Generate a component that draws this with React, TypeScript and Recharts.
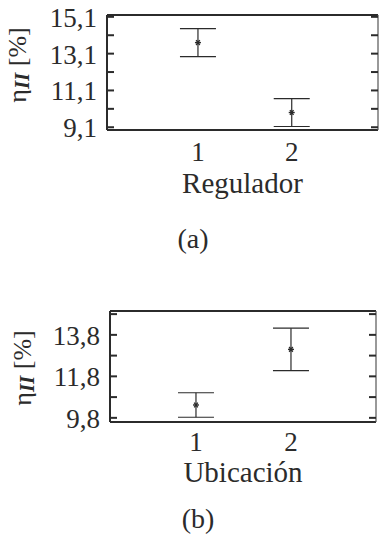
import { ScatterChart, Scatter, XAxis, YAxis, ErrorBar, Label } from 'recharts'

// (a) Regulador
const regX = [1, 2]
const regEta = [13.7, 9.9]
const regErr = [0.76, 0.76]
const regTicks = [9.1, 10.1, 11.1, 12.1, 13.1, 14.1, 15.1]
const regLabeled = [9.1, 11.1, 13.1, 15.1]

// (b) Ubicación
const ubiX = [1, 2]
const ubiEta = [10.42, 13.1]
const ubiErr = [0.59, 1.02]
const ubiTicks = [9.8, 10.8, 11.8, 12.8, 13.8, 14.8]
const ubiLabeled = [9.8, 11.8, 13.8]

const INK = '#2b2b2b'
const FONT = '"Liberation Serif", serif'

const fmt = (v: number) => v.toFixed(1).replace('.', ',')

const LeftTick = (labeled: number[]) => (props: any) => {
  const { x, y, payload } = props
  const show = labeled.some((l) => Math.abs(l - payload.value) < 1e-6)
  return (
    <g>
      <line x1={x + 10} x2={x + 17} y1={y} y2={y} stroke={INK} strokeWidth={2} />
      {show && (
        <text x={x} y={y + 10} textAnchor="end" fontFamily={FONT} fontSize={27} fill={INK}>
          {fmt(payload.value)}
        </text>
      )}
    </g>
  )
}

const RightTick = (props: any) => {
  const { x, y } = props
  return <line x1={x} x2={x - 7} y1={y} y2={y} stroke={INK} strokeWidth={2} />
}

const BottomTick = (dy: number) => (props: any) => {
  const { x, y, payload } = props
  return (
    <text x={x} y={y + dy} textAnchor="middle" fontFamily={FONT} fontSize={27} fill={INK}>
      {payload.value}
    </text>
  )
}

const Star = (props: any) => {
  const { cx, cy } = props
  const r = 3
  return (
    <g stroke={INK} strokeWidth={1.4}>
      <line x1={cx - r} x2={cx + r} y1={cy} y2={cy} />
      <line x1={cx - r * 0.6} x2={cx + r * 0.6} y1={cy - r * 0.8} y2={cy + r * 0.8} />
      <line x1={cx - r * 0.6} x2={cx + r * 0.6} y1={cy + r * 0.8} y2={cy - r * 0.8} />
    </g>
  )
}

const yTitle = (cx: number, cy: number) => () => (
  <text
    transform={`translate(${cx},${cy}) rotate(-90)`}
    textAnchor="middle"
    fontFamily={FONT}
    fontSize={26}
    fill={INK}
  >
    η
    <tspan fontWeight="bold" fontStyle="italic" fontSize={21} dy={3}>II</tspan>
    <tspan dy={-3}> [%]</tspan>
  </text>
)

const xTitle = (text: string, dy: number) => (props: any) => {
  const { x, y, width } = props.viewBox
  return (
    <text x={x + width / 2} y={y + dy} textAnchor="middle" fontFamily={FONT} fontSize={29} fill={INK}>
      {text}
    </text>
  )
}

interface PanelProps {
  xs: number[]
  eta: number[]
  err: number[]
  ticks: number[]
  labeled: number[]
  yDomain: [number, number]
  xDomain: [number, number]
  title: string
  height: number
  margin: { top: number; right: number; bottom: number; left: number }
  yAxisWidth: number
  xAxisHeight: number
  tickDy: number
  titleDy: number
  yTitlePos: [number, number]
}

function Panel(p: PanelProps) {
  const data = p.xs.map((x, i) => ({ x, y: p.eta[i], err: p.err[i] }))
  return (
    <ScatterChart width={379} height={p.height} margin={p.margin}>
      <XAxis
        xAxisId="b"
        dataKey="x"
        type="number"
        domain={p.xDomain}
        ticks={p.xs}
        interval={0}
        allowDataOverflow
        height={p.xAxisHeight}
        tickLine={false}
        tickSize={0}
        tickMargin={0}
        axisLine={{ stroke: INK, strokeWidth: 2.2 }}
        tick={BottomTick(p.tickDy)}
      >
        <Label content={xTitle(p.title, p.titleDy)} />
      </XAxis>
      <XAxis
        xAxisId="t"
        orientation="top"
        type="number"
        domain={p.xDomain}
        allowDataOverflow
        height={1}
        tick={false}
        tickLine={false}
        axisLine={{ stroke: INK, strokeWidth: 2.2 }}
      />
      <YAxis
        yAxisId="l"
        dataKey="y"
        type="number"
        domain={p.yDomain}
        ticks={p.ticks}
        interval={0}
        allowDataOverflow
        width={p.yAxisWidth}
        tickLine={false}
        tickSize={0}
        tickMargin={10}
        axisLine={{ stroke: INK, strokeWidth: 2 }}
        tick={LeftTick(p.labeled)}
      >
        <Label content={yTitle(p.yTitlePos[0], p.yTitlePos[1])} />
      </YAxis>
      <YAxis
        yAxisId="r"
        orientation="right"
        type="number"
        domain={p.yDomain}
        ticks={p.ticks}
        interval={0}
        allowDataOverflow
        width={1}
        tickLine={false}
        tickSize={0}
        tickMargin={0}
        axisLine={{ stroke: '#555', strokeWidth: 1.2 }}
        tick={RightTick}
      />
      <Scatter data={data} xAxisId="b" yAxisId="l" shape={Star} isAnimationActive={false}>
        <ErrorBar dataKey="err" direction="y" width={18} stroke={INK} strokeWidth={1.2} />
      </Scatter>
    </ScatterChart>
  )
}

export default function App() {
  return (
    <div style={{ position: 'absolute', left: 0, top: 0, width: 379, height: 541, background: '#fff' }}>
      <div style={{ position: 'absolute', left: 0, top: 0 }}>
        <Panel
          xs={regX}
          eta={regEta}
          err={regErr}
          ticks={regTicks}
          labeled={regLabeled}
          yDomain={[8.95, 15.2]}
          xDomain={[0.03, 2.92]}
          title="Regulador"
          height={215}
          margin={{ top: 14, right: 0, bottom: 0, left: 0 }}
          yAxisWidth={107}
          xAxisHeight={85}
          tickDy={31}
          titleDy={63}
          yTitlePos={[26, 65]}
        />
      </div>
      <div style={{ position: 'absolute', left: 0, top: 290 }}>
        <Panel
          xs={ubiX}
          eta={ubiEta}
          err={ubiErr}
          ticks={ubiTicks}
          labeled={ubiLabeled}
          yDomain={[9.6, 14.95]}
          xDomain={[0.095, 2.895]}
          title="Ubicación"
          height={210}
          margin={{ top: 20, right: 2, bottom: 0, left: 0 }}
          yAxisWidth={110}
          xAxisHeight={78}
          tickDy={29}
          titleDy={60}
          yTitlePos={[31, 78]}
        />
      </div>
      <div style={{ position: 'absolute', left: 0, top: 225, width: 386, textAlign: 'center', fontFamily: FONT, fontSize: 28, lineHeight: '28px', color: INK }}>
        (a)
      </div>
      <div style={{ position: 'absolute', left: 0, top: 505, width: 396, textAlign: 'center', fontFamily: FONT, fontSize: 28, lineHeight: '28px', color: INK }}>
        (b)
      </div>
    </div>
  )
}
